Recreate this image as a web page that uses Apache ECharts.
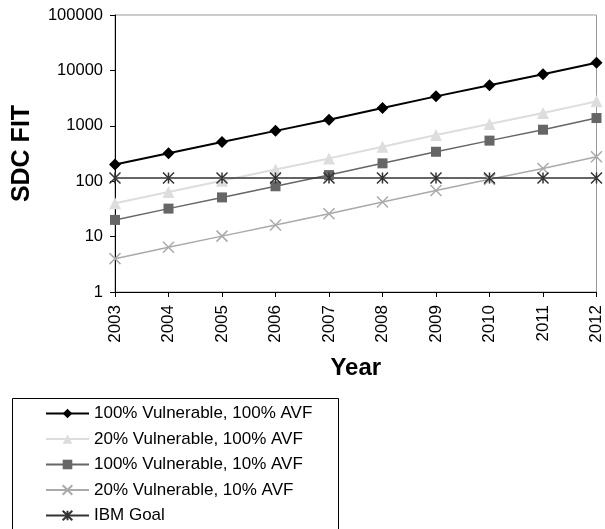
<!DOCTYPE html>
<html>
<head>
<meta charset="utf-8">
<script src="https://cdn.jsdelivr.net/npm/echarts@6/dist/echarts.min.js"></script>
<style>
  html, body { margin: 0; padding: 0; background: #fff; }
  #chart { width: 605px; height: 529px; }
</style>
</head>
<body>
<div id="chart"></div>
<script>
var years = ['2003', '2004', '2005', '2006', '2007', '2008', '2009', '2010', '2011', '2012'];
var vul100avf100 = [200, 320, 510, 810, 1290, 2100, 3400, 5400, 8500, 13800];
var vul20avf100 = [40, 64, 102, 162, 258, 420, 680, 1080, 1700, 2760];
var vul100avf10 = [20, 32, 51, 81, 129, 210, 340, 540, 850, 1380];
var vul20avf10 = [4, 6.4, 10.2, 16.2, 25.8, 42, 68, 108, 170, 276];
var ibmGoal = [114, 114, 114, 114, 114, 114, 114, 114, 114, 114];

var font = 'Arial, "Liberation Sans", sans-serif';
var crossPath = 'path://M0,0L10,10M10,0L0,10';
var starPath = 'path://M0,0L10,10M10,0L0,10M5,0L5,10';

var myChart = echarts.init(document.getElementById('chart'));
var option = {
    backgroundColor: '#fff',
    animation: false,
    grid: {
        left: 115,
        right: 7,
        top: 15,
        bottom: 237,
        show: true,
        borderColor: '#999',
        borderWidth: 1
    },
    xAxis: {
        type: 'category',
        data: years,
        boundaryGap: false,
        axisLine: { lineStyle: { color: '#000', width: 1 } },
        axisTick: { show: true, length: 5, lineStyle: { color: '#000' } },
        axisLabel: { rotate: 90, margin: 13, color: '#000', fontSize: 17, fontFamily: font },
        splitLine: { show: false },
        name: 'Year',
        nameLocation: 'middle',
        nameGap: 64,
        nameMoveOverlap: false,
        nameTextStyle: { fontSize: 24, fontWeight: 'bold', color: '#000', fontFamily: font }
    },
    yAxis: {
        type: 'log',
        logBase: 10,
        min: 1,
        max: 100000,
        axisLine: { show: true, lineStyle: { color: '#000', width: 1 } },
        axisTick: { show: true, length: 5, lineStyle: { color: '#000' } },
        axisLabel: {
            margin: 12, color: '#000', fontSize: 16.5, fontFamily: font,
            formatter: function (v) { return String(Math.round(v)); }
        },
        splitLine: { show: false },
        name: 'SDC FIT',
        nameLocation: 'middle',
        nameGap: 80,
        nameMoveOverlap: false,
        nameTextStyle: { fontSize: 25, fontWeight: 'bold', color: '#000', fontFamily: font }
    },
    legend: {
        orient: 'vertical',
        left: 40,
        top: 400,
        height: 200,
        itemWidth: 43,
        itemHeight: 12,
        itemGap: 8.5,
        textStyle: { fontSize: 17, color: '#000', fontFamily: font },
        data: ['100% Vulnerable, 100% AVF', '20% Vulnerable, 100% AVF', '100% Vulnerable, 10% AVF', '20% Vulnerable, 10% AVF', 'IBM Goal']
    },
    graphic: [{
        type: 'rect',
        z: -1,
        shape: { x: 12.5, y: 398.5, width: 326, height: 140 },
        style: { fill: '#fff', stroke: '#000', lineWidth: 1 }
    }],
    series: [
        {
            name: '100% Vulnerable, 100% AVF',
            type: 'line',
            data: vul100avf100,
            symbol: 'diamond',
            symbolSize: 12,
            lineStyle: { color: '#000', width: 2 },
            itemStyle: { color: '#000' }
        },
        {
            name: '20% Vulnerable, 100% AVF',
            type: 'line',
            data: vul20avf100,
            symbol: 'triangle',
            symbolSize: 12,
            lineStyle: { color: '#ddd', width: 2 },
            itemStyle: { color: '#ddd' }
        },
        {
            name: '100% Vulnerable, 10% AVF',
            type: 'line',
            data: vul100avf10,
            symbol: 'rect',
            symbolSize: 10,
            lineStyle: { color: '#666', width: 1.5 },
            itemStyle: { color: '#666' }
        },
        {
            name: '20% Vulnerable, 10% AVF',
            type: 'line',
            data: vul20avf10,
            symbol: crossPath,
            symbolSize: 11,
            lineStyle: { color: '#aaa', width: 1.5 },
            itemStyle: { color: 'rgba(0,0,0,0)', borderColor: '#aaa', borderWidth: 1.5 }
        },
        {
            name: 'IBM Goal',
            type: 'line',
            data: ibmGoal,
            symbol: starPath,
            symbolSize: 11,
            lineStyle: { color: '#333', width: 1.5 },
            itemStyle: { color: 'rgba(0,0,0,0)', borderColor: '#333', borderWidth: 1.5 }
        }
    ]
};
myChart.setOption(option);
</script>
</body>
</html>
